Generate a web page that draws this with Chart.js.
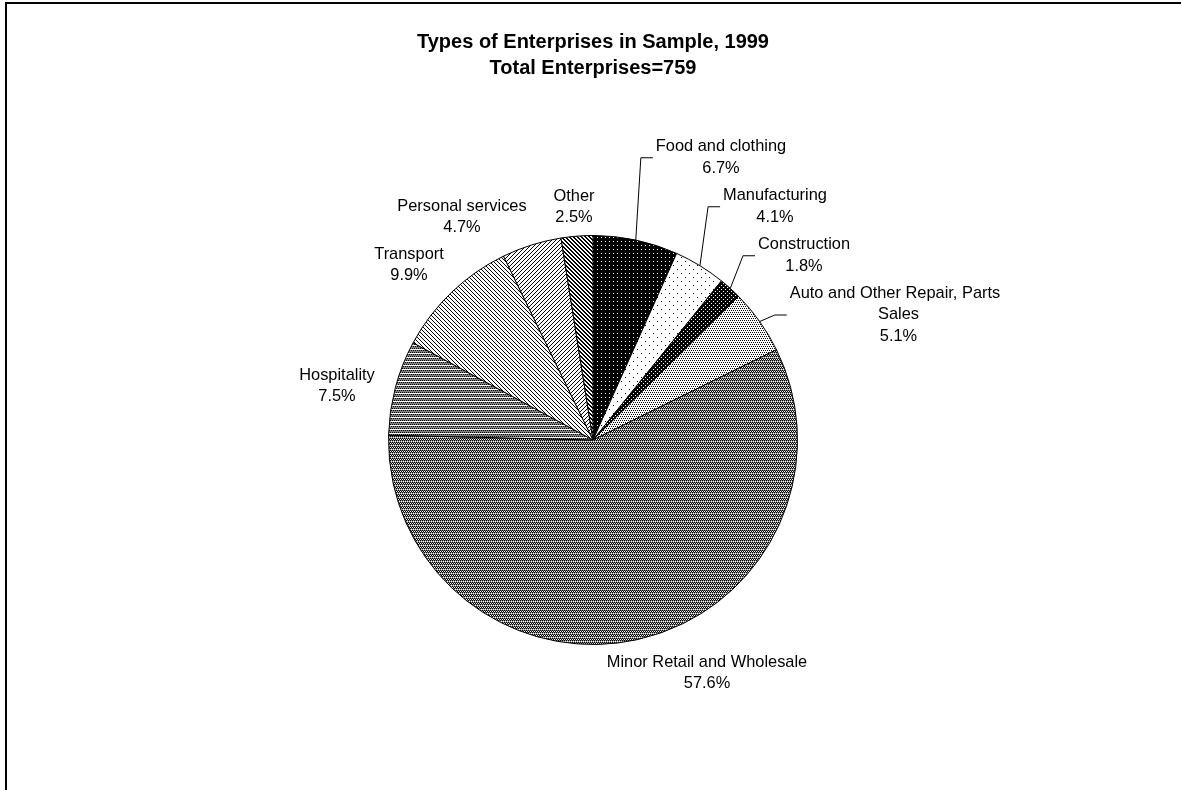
<!DOCTYPE html>
<html>
<head>
<meta charset="utf-8">
<title>Types of Enterprises in Sample, 1999</title>
<script src="https://cdn.jsdelivr.net/npm/chart.js@4.4.1/dist/chart.umd.min.js"></script>
<style>
  html, body { margin: 0; padding: 0; background: #ffffff; }
  #wrap { position: relative; width: 1181px; height: 790px; }
</style>
</head>
<body>
<div id="wrap"><canvas id="chart" width="1181" height="790"></canvas></div>
<script>
// Enterprise categories, clockwise from 12 o'clock
const categories = [
  'Food and clothing',
  'Manufacturing',
  'Construction',
  'Auto and Other Repair, Parts Sales',
  'Minor Retail and Wholesale',
  'Hospitality',
  'Transport',
  'Personal services',
  'Other'
];
// Share of enterprises (%)
const shares = [6.7, 4.1, 1.8, 5.1, 57.6, 7.5, 9.9, 4.7, 2.5];

const titleLines = ['Types of Enterprises in Sample, 1999', 'Total Enterprises=759'];

// Label placement: text lines, centre of first line, leader flag
const labelLayout = [
  { lines: ['Food and clothing', '6.7%'], x: 721, y: 146.5, leader: true },
  { lines: ['Manufacturing', '4.1%'], x: 775, y: 195.5, leader: true },
  { lines: ['Construction', '1.8%'], x: 804, y: 244.5, leader: true },
  { lines: ['Auto and Other Repair, Parts', 'Sales', '5.1%'], x: [895, 898.5, 898.5], y: 293, leader: true },
  { lines: ['Minor Retail and Wholesale', '57.6%'], x: 707, y: 662, leader: false },
  { lines: ['Hospitality', '7.5%'], x: 337, y: 375, leader: false },
  { lines: ['Transport', '9.9%'], x: 409, y: 254, leader: false },
  { lines: ['Personal services', '4.7%'], x: 462, y: 206, leader: false },
  { lines: ['Other', '2.5%'], x: 574, y: 196, leader: false }
];

const FONT = '"Liberation Sans", Arial, Helvetica, sans-serif';

// Monochrome fill patterns built from small pixel tiles
// K = black, W = white, G = grey
function makePattern(rows) {
  const h = rows.length, w = rows[0].length;
  const c = document.createElement('canvas');
  c.width = w; c.height = h;
  const g = c.getContext('2d');
  const colors = { K: '#000000', W: '#ffffff', G: '#808080' };
  for (let y = 0; y < h; y++) {
    for (let x = 0; x < w; x++) {
      g.fillStyle = colors[rows[y][x]];
      g.fillRect(x, y, 1, 1);
    }
  }
  return g.createPattern(c, 'repeat');
}

const fills = [
  // food: black with sparse white dots
  makePattern(['KKKK', 'KWKK', 'KKKK', 'KKKK']),
  // manufacturing: white with sparse black dots
  makePattern(['WWWWWWWW', 'WKWWWWWW', 'WWWWWWWW', 'WWWWWWWW', 'WWWWWWWW', 'WWWWWKWW', 'WWWWWWWW', 'WWWWWWWW']),
  // construction: black with white dots
  makePattern(['KKKK', 'KWKK', 'KKKK', 'KKKW']),
  // auto repair: white with dense black dots
  makePattern(['KWKW', 'WWWW', 'WKWK', 'WWWW']),
  // minor retail: grey weave
  makePattern(['KGKG', 'GWGW', 'KGKG', 'WKWK']),
  // hospitality: grey horizontal weave
  makePattern(['KGKG', 'WWWW', 'GKGK', 'GGGG']),
  // transport: fine diagonal hatch
  makePattern(['KWWW', 'WKWW', 'WWKW', 'WWWK']),
  // personal services: fine diagonal hatch, other direction
  makePattern(['WWWK', 'WWKW', 'WKWW', 'KWWW']),
  // other: heavier diagonal hatch
  makePattern(['KKWW', 'WKKW', 'WWKK', 'KWWK'])
];

// Outer frame (top and left rules)
const framePlugin = {
  id: 'frame',
  beforeDraw(chart) {
    const ctx = chart.ctx;
    ctx.save();
    ctx.fillStyle = '#000000';
    ctx.fillRect(5, 2, chart.width - 5, 2);
    ctx.fillRect(5, 2, 2, chart.height - 2);
    ctx.restore();
  }
};

// Category labels with elbow leader lines
const sliceLabels = {
  id: 'sliceLabels',
  afterDatasetsDraw(chart) {
    const ctx = chart.ctx;
    const arcs = chart.getDatasetMeta(0).data;
    ctx.save();
    ctx.font = '16.4px ' + FONT;
    ctx.fillStyle = '#000000';
    ctx.textAlign = 'center';
    ctx.textBaseline = 'middle';
    const step = 21.5;
    labelLayout.forEach((lab, i) => {
      const xs = Array.isArray(lab.x) ? lab.x : lab.lines.map(() => lab.x);
      lab.lines.forEach((t, j) => ctx.fillText(t, xs[j], lab.y + j * step));
      if (lab.leader) {
        const a = arcs[i].getProps(['x', 'y', 'startAngle', 'endAngle', 'outerRadius'], true);
        const mid = (a.startAngle + a.endAngle) / 2;
        const ex = a.x + Math.cos(mid) * a.outerRadius;
        const ey = a.y + Math.sin(mid) * a.outerRadius;
        let left = Infinity;
        lab.lines.forEach((t, j) => {
          left = Math.min(left, xs[j] - ctx.measureText(t).width / 2);
        });
        const ly = lab.y + (lab.lines.length - 1) * step / 2;
        ctx.beginPath();
        ctx.strokeStyle = '#000000';
        ctx.lineWidth = 1;
        ctx.moveTo(left - 3, ly + 0.5);
        ctx.lineTo(left - 15, ly + 0.5);
        ctx.lineTo(ex, ey);
        ctx.stroke();
      }
    });
    ctx.restore();
  }
};

new Chart(document.getElementById('chart'), {
  type: 'pie',
  data: {
    labels: categories,
    datasets: [{
      data: shares,
      backgroundColor: fills,
      borderColor: '#000000',
      borderWidth: 1
    }]
  },
  options: {
    responsive: false,
    animation: false,
    devicePixelRatio: 1,
    layout: { padding: { top: 0, left: 388, right: 383, bottom: 145 } },
    plugins: {
      legend: { display: false },
      tooltip: { enabled: false },
      title: {
        display: true,
        text: titleLines,
        color: '#000000',
        font: { family: FONT, size: 20, weight: 'bold', lineHeight: 1.3 },
        padding: { top: 29.5, bottom: 153.5 }
      }
    }
  },
  plugins: [framePlugin, sliceLabels]
});
</script>
</body>
</html>
